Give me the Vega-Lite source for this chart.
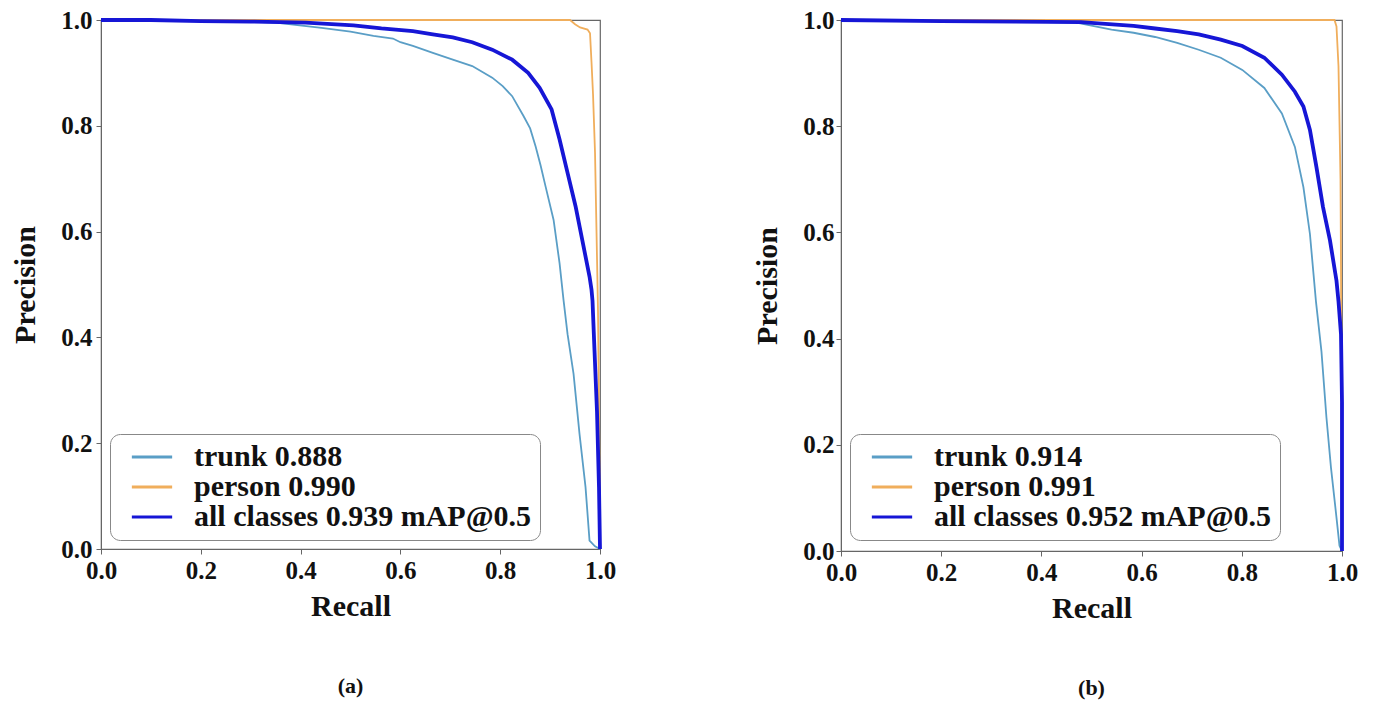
{
  "$schema": "https://vega.github.io/schema/vega-lite/v6.json",
  "background": "white",
  "padding": {"left": 10, "top": 7, "right": 5, "bottom": 5},
  "spacing": 135,
  "config": {
    "font": "Liberation Serif",
    "view": {"stroke": "#666", "strokeWidth": 1.2},
    "axis": {
      "labelFont": "Liberation Serif", "labelFontWeight": "bold", "labelFontSize": 25, "labelColor": "#111",
      "titleFont": "Liberation Serif", "titleFontWeight": "bold", "titleFontSize": 30, "titleColor": "#111",
      "domainColor": "#666", "tickColor": "#666", "tickSize": 5, "grid": false, "labelPadding": 4,
      "labelFlush": false, "labelOverlap": false
    },
    "axisX": {"titlePadding": 8},
    "axisY": {"titlePadding": 20},
    "legend": {
      "orient": "none", "legendX": 9, "legendY": 414,
      "strokeColor": "#888", "cornerRadius": 10, "padding": 8, "fillColor": "white",
      "symbolType": "M-1.55,0H1.55", "symbolSize": 676, "symbolStrokeWidth": 3, "symbolOffset": 19,
      "labelFont": "Liberation Serif", "labelFontWeight": "bold", "labelFontSize": 30, "labelColor": "#111",
      "labelOffset": 27, "rowPadding": 0, "labelLimit": 600
    },
    "title": {"font": "Liberation Serif", "fontSize": 22, "fontWeight": "bold", "color": "#111", "orient": "bottom", "anchor": "middle", "offset": 55}
  },
  "resolve": {"scale": {"color": "independent", "x": "independent", "y": "independent"}, "legend": {"color": "independent"}},
  "datasets": {
    "a": [
      {"series": "trunk 0.888", "i": 0, "recall": 0, "precision": 1},
      {"series": "trunk 0.888", "i": 1, "recall": 0.1, "precision": 1},
      {"series": "trunk 0.888", "i": 2, "recall": 0.2, "precision": 0.998},
      {"series": "trunk 0.888", "i": 3, "recall": 0.3, "precision": 0.997},
      {"series": "trunk 0.888", "i": 4, "recall": 0.35, "precision": 0.995},
      {"series": "trunk 0.888", "i": 5, "recall": 0.442, "precision": 0.985},
      {"series": "trunk 0.888", "i": 6, "recall": 0.5, "precision": 0.978},
      {"series": "trunk 0.888", "i": 7, "recall": 0.546, "precision": 0.970},
      {"series": "trunk 0.888", "i": 8, "recall": 0.585, "precision": 0.965},
      {"series": "trunk 0.888", "i": 9, "recall": 0.6, "precision": 0.958},
      {"series": "trunk 0.888", "i": 10, "recall": 0.625, "precision": 0.951},
      {"series": "trunk 0.888", "i": 11, "recall": 0.665, "precision": 0.938},
      {"series": "trunk 0.888", "i": 12, "recall": 0.705, "precision": 0.925},
      {"series": "trunk 0.888", "i": 13, "recall": 0.744, "precision": 0.913},
      {"series": "trunk 0.888", "i": 14, "recall": 0.784, "precision": 0.891},
      {"series": "trunk 0.888", "i": 15, "recall": 0.805, "precision": 0.875},
      {"series": "trunk 0.888", "i": 16, "recall": 0.824, "precision": 0.856},
      {"series": "trunk 0.888", "i": 17, "recall": 0.847, "precision": 0.818},
      {"series": "trunk 0.888", "i": 18, "recall": 0.86, "precision": 0.795},
      {"series": "trunk 0.888", "i": 19, "recall": 0.871, "precision": 0.761},
      {"series": "trunk 0.888", "i": 20, "recall": 0.881, "precision": 0.725},
      {"series": "trunk 0.888", "i": 21, "recall": 0.891, "precision": 0.685},
      {"series": "trunk 0.888", "i": 22, "recall": 0.907, "precision": 0.622},
      {"series": "trunk 0.888", "i": 23, "recall": 0.919, "precision": 0.540},
      {"series": "trunk 0.888", "i": 24, "recall": 0.927, "precision": 0.470},
      {"series": "trunk 0.888", "i": 25, "recall": 0.935, "precision": 0.406},
      {"series": "trunk 0.888", "i": 26, "recall": 0.947, "precision": 0.331},
      {"series": "trunk 0.888", "i": 27, "recall": 0.959, "precision": 0.217},
      {"series": "trunk 0.888", "i": 28, "recall": 0.971, "precision": 0.117},
      {"series": "trunk 0.888", "i": 29, "recall": 0.979, "precision": 0.016},
      {"series": "trunk 0.888", "i": 30, "recall": 0.99, "precision": 0.005},
      {"series": "trunk 0.888", "i": 31, "recall": 1.0, "precision": 0.0},
      {"series": "person 0.990", "i": 0, "recall": 0, "precision": 1},
      {"series": "person 0.990", "i": 1, "recall": 0.5, "precision": 1},
      {"series": "person 0.990", "i": 2, "recall": 0.94, "precision": 1},
      {"series": "person 0.990", "i": 3, "recall": 0.95, "precision": 0.992},
      {"series": "person 0.990", "i": 4, "recall": 0.96, "precision": 0.986},
      {"series": "person 0.990", "i": 5, "recall": 0.975, "precision": 0.982},
      {"series": "person 0.990", "i": 6, "recall": 0.98, "precision": 0.975},
      {"series": "person 0.990", "i": 7, "recall": 0.983, "precision": 0.92},
      {"series": "person 0.990", "i": 8, "recall": 0.986, "precision": 0.86},
      {"series": "person 0.990", "i": 9, "recall": 0.99, "precision": 0.75},
      {"series": "person 0.990", "i": 10, "recall": 0.993, "precision": 0.6},
      {"series": "person 0.990", "i": 11, "recall": 0.996, "precision": 0.45},
      {"series": "person 0.990", "i": 12, "recall": 0.998, "precision": 0.26},
      {"series": "person 0.990", "i": 13, "recall": 1.0, "precision": 0.0},
      {"series": "all classes 0.939 mAP@0.5", "i": 0, "recall": 0, "precision": 1},
      {"series": "all classes 0.939 mAP@0.5", "i": 1, "recall": 0.1, "precision": 1},
      {"series": "all classes 0.939 mAP@0.5", "i": 2, "recall": 0.2, "precision": 0.998},
      {"series": "all classes 0.939 mAP@0.5", "i": 3, "recall": 0.3, "precision": 0.997},
      {"series": "all classes 0.939 mAP@0.5", "i": 4, "recall": 0.41, "precision": 0.995},
      {"series": "all classes 0.939 mAP@0.5", "i": 5, "recall": 0.506, "precision": 0.99},
      {"series": "all classes 0.939 mAP@0.5", "i": 6, "recall": 0.562, "precision": 0.984},
      {"series": "all classes 0.939 mAP@0.5", "i": 7, "recall": 0.625, "precision": 0.979},
      {"series": "all classes 0.939 mAP@0.5", "i": 8, "recall": 0.665, "precision": 0.973},
      {"series": "all classes 0.939 mAP@0.5", "i": 9, "recall": 0.705, "precision": 0.967},
      {"series": "all classes 0.939 mAP@0.5", "i": 10, "recall": 0.744, "precision": 0.958},
      {"series": "all classes 0.939 mAP@0.5", "i": 11, "recall": 0.784, "precision": 0.944},
      {"series": "all classes 0.939 mAP@0.5", "i": 12, "recall": 0.824, "precision": 0.925},
      {"series": "all classes 0.939 mAP@0.5", "i": 13, "recall": 0.856, "precision": 0.900},
      {"series": "all classes 0.939 mAP@0.5", "i": 14, "recall": 0.879, "precision": 0.872},
      {"series": "all classes 0.939 mAP@0.5", "i": 15, "recall": 0.903, "precision": 0.831},
      {"series": "all classes 0.939 mAP@0.5", "i": 16, "recall": 0.919, "precision": 0.774},
      {"series": "all classes 0.939 mAP@0.5", "i": 17, "recall": 0.935, "precision": 0.711},
      {"series": "all classes 0.939 mAP@0.5", "i": 18, "recall": 0.951, "precision": 0.648},
      {"series": "all classes 0.939 mAP@0.5", "i": 19, "recall": 0.967, "precision": 0.572},
      {"series": "all classes 0.939 mAP@0.5", "i": 20, "recall": 0.979, "precision": 0.515},
      {"series": "all classes 0.939 mAP@0.5", "i": 21, "recall": 0.983, "precision": 0.49},
      {"series": "all classes 0.939 mAP@0.5", "i": 22, "recall": 0.985, "precision": 0.469},
      {"series": "all classes 0.939 mAP@0.5", "i": 23, "recall": 0.989, "precision": 0.375},
      {"series": "all classes 0.939 mAP@0.5", "i": 24, "recall": 0.994, "precision": 0.26},
      {"series": "all classes 0.939 mAP@0.5", "i": 25, "recall": 0.998, "precision": 0.117},
      {"series": "all classes 0.939 mAP@0.5", "i": 26, "recall": 1.0, "precision": 0.0}
    ],
    "b": [
      {"series": "trunk 0.914", "i": 0, "recall": 0, "precision": 1},
      {"series": "trunk 0.914", "i": 1, "recall": 0.2, "precision": 0.998},
      {"series": "trunk 0.914", "i": 2, "recall": 0.35, "precision": 0.997},
      {"series": "trunk 0.914", "i": 3, "recall": 0.47, "precision": 0.995},
      {"series": "trunk 0.914", "i": 4, "recall": 0.54, "precision": 0.982},
      {"series": "trunk 0.914", "i": 5, "recall": 0.584, "precision": 0.976},
      {"series": "trunk 0.914", "i": 6, "recall": 0.627, "precision": 0.968},
      {"series": "trunk 0.914", "i": 7, "recall": 0.671, "precision": 0.957},
      {"series": "trunk 0.914", "i": 8, "recall": 0.714, "precision": 0.944},
      {"series": "trunk 0.914", "i": 9, "recall": 0.758, "precision": 0.929},
      {"series": "trunk 0.914", "i": 10, "recall": 0.801, "precision": 0.906},
      {"series": "trunk 0.914", "i": 11, "recall": 0.845, "precision": 0.872},
      {"series": "trunk 0.914", "i": 12, "recall": 0.88, "precision": 0.824},
      {"series": "trunk 0.914", "i": 13, "recall": 0.906, "precision": 0.761},
      {"series": "trunk 0.914", "i": 14, "recall": 0.923, "precision": 0.685},
      {"series": "trunk 0.914", "i": 15, "recall": 0.936, "precision": 0.597},
      {"series": "trunk 0.914", "i": 16, "recall": 0.948, "precision": 0.47},
      {"series": "trunk 0.914", "i": 17, "recall": 0.959, "precision": 0.376},
      {"series": "trunk 0.914", "i": 18, "recall": 0.969, "precision": 0.251},
      {"series": "trunk 0.914", "i": 19, "recall": 0.978, "precision": 0.157},
      {"series": "trunk 0.914", "i": 20, "recall": 0.989, "precision": 0.063},
      {"series": "trunk 0.914", "i": 21, "recall": 0.995, "precision": 0.01},
      {"series": "trunk 0.914", "i": 22, "recall": 1.0, "precision": 0.0},
      {"series": "person 0.991", "i": 0, "recall": 0, "precision": 1},
      {"series": "person 0.991", "i": 1, "recall": 0.5, "precision": 1},
      {"series": "person 0.991", "i": 2, "recall": 0.985, "precision": 1},
      {"series": "person 0.991", "i": 3, "recall": 0.989, "precision": 0.988},
      {"series": "person 0.991", "i": 4, "recall": 0.993, "precision": 0.913},
      {"series": "person 0.991", "i": 5, "recall": 0.997, "precision": 0.7},
      {"series": "person 0.991", "i": 6, "recall": 0.998, "precision": 0.53},
      {"series": "person 0.991", "i": 7, "recall": 1.0, "precision": 0.0},
      {"series": "all classes 0.952 mAP@0.5", "i": 0, "recall": 0, "precision": 1},
      {"series": "all classes 0.952 mAP@0.5", "i": 1, "recall": 0.2, "precision": 0.998},
      {"series": "all classes 0.952 mAP@0.5", "i": 2, "recall": 0.35, "precision": 0.997},
      {"series": "all classes 0.952 mAP@0.5", "i": 3, "recall": 0.479, "precision": 0.996},
      {"series": "all classes 0.952 mAP@0.5", "i": 4, "recall": 0.584, "precision": 0.989},
      {"series": "all classes 0.952 mAP@0.5", "i": 5, "recall": 0.627, "precision": 0.984},
      {"series": "all classes 0.952 mAP@0.5", "i": 6, "recall": 0.671, "precision": 0.979},
      {"series": "all classes 0.952 mAP@0.5", "i": 7, "recall": 0.714, "precision": 0.973},
      {"series": "all classes 0.952 mAP@0.5", "i": 8, "recall": 0.758, "precision": 0.963},
      {"series": "all classes 0.952 mAP@0.5", "i": 9, "recall": 0.801, "precision": 0.951},
      {"series": "all classes 0.952 mAP@0.5", "i": 10, "recall": 0.845, "precision": 0.929},
      {"series": "all classes 0.952 mAP@0.5", "i": 11, "recall": 0.88, "precision": 0.897},
      {"series": "all classes 0.952 mAP@0.5", "i": 12, "recall": 0.906, "precision": 0.865},
      {"series": "all classes 0.952 mAP@0.5", "i": 13, "recall": 0.923, "precision": 0.837},
      {"series": "all classes 0.952 mAP@0.5", "i": 14, "recall": 0.936, "precision": 0.793},
      {"series": "all classes 0.952 mAP@0.5", "i": 15, "recall": 0.949, "precision": 0.723},
      {"series": "all classes 0.952 mAP@0.5", "i": 16, "recall": 0.962, "precision": 0.648},
      {"series": "all classes 0.952 mAP@0.5", "i": 17, "recall": 0.976, "precision": 0.585},
      {"series": "all classes 0.952 mAP@0.5", "i": 18, "recall": 0.989, "precision": 0.509},
      {"series": "all classes 0.952 mAP@0.5", "i": 19, "recall": 0.993, "precision": 0.47},
      {"series": "all classes 0.952 mAP@0.5", "i": 20, "recall": 0.998, "precision": 0.408},
      {"series": "all classes 0.952 mAP@0.5", "i": 21, "recall": 1.0, "precision": 0.28},
      {"series": "all classes 0.952 mAP@0.5", "i": 22, "recall": 1.0, "precision": 0.0}
    ]
  },
  "hconcat": [
    {
      "width": 499, "height": 529,
      "title": "(a)",
      "data": {"name": "a"},
      "encoding": {
        "x": {"field": "recall", "type": "quantitative", "title": "Recall", "scale": {"domain": [0, 1], "nice": false},
              "axis": {"values": [0, 0.2, 0.4, 0.6, 0.8, 1], "format": ".1f"}},
        "y": {"field": "precision", "type": "quantitative", "title": "Precision", "scale": {"domain": [0, 1], "nice": false},
              "axis": {"values": [0, 0.2, 0.4, 0.6, 0.8, 1], "format": ".1f"}},
        "order": {"field": "i", "type": "quantitative"},
        "color": {"field": "series", "type": "nominal",
                  "scale": {"domain": ["trunk 0.888", "person 0.990", "all classes 0.939 mAP@0.5"], "range": ["#5a9ec6", "#f0ae5c", "#1616d6"]},
                  "legend": {"title": null, "symbolStrokeWidth": 3}}
      },
      "layer": [
        {"transform": [{"filter": {"field": "series", "equal": "trunk 0.888"}}], "mark": {"type": "line", "strokeWidth": 1.8}},
        {"transform": [{"filter": {"field": "series", "equal": "person 0.990"}}], "mark": {"type": "line", "strokeWidth": 1.8}},
        {"transform": [{"filter": {"field": "series", "equal": "all classes 0.939 mAP@0.5"}}], "mark": {"type": "line", "strokeWidth": 3.8}}
      ]
    },
    {
      "width": 501, "height": 531,
      "title": "(b)",
      "data": {"name": "b"},
      "encoding": {
        "x": {"field": "recall", "type": "quantitative", "title": "Recall", "scale": {"domain": [0, 1], "nice": false},
              "axis": {"values": [0, 0.2, 0.4, 0.6, 0.8, 1], "format": ".1f"}},
        "y": {"field": "precision", "type": "quantitative", "title": "Precision", "scale": {"domain": [0, 1], "nice": false},
              "axis": {"values": [0, 0.2, 0.4, 0.6, 0.8, 1], "format": ".1f", "labelPadding": 2}},
        "order": {"field": "i", "type": "quantitative"},
        "color": {"field": "series", "type": "nominal",
                  "scale": {"domain": ["trunk 0.914", "person 0.991", "all classes 0.952 mAP@0.5"], "range": ["#5a9ec6", "#f0ae5c", "#1616d6"]},
                  "legend": {"title": null, "symbolStrokeWidth": 3}}
      },
      "layer": [
        {"transform": [{"filter": {"field": "series", "equal": "trunk 0.914"}}], "mark": {"type": "line", "strokeWidth": 1.8}},
        {"transform": [{"filter": {"field": "series", "equal": "person 0.991"}}], "mark": {"type": "line", "strokeWidth": 1.8}},
        {"transform": [{"filter": {"field": "series", "equal": "all classes 0.952 mAP@0.5"}}], "mark": {"type": "line", "strokeWidth": 3.8}}
      ]
    }
  ]
}
